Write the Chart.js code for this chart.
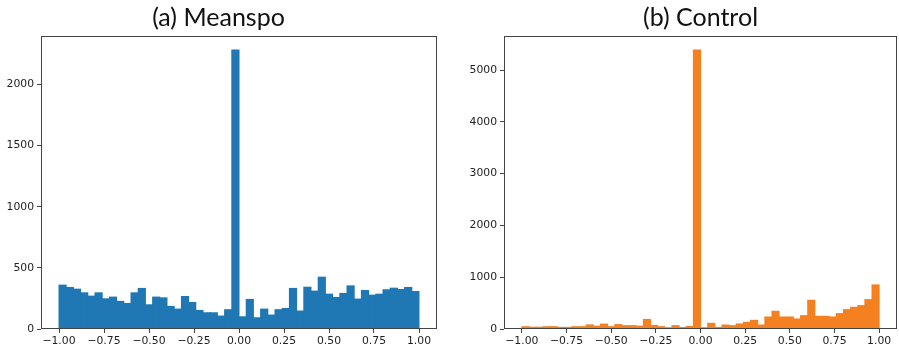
<!DOCTYPE html>
<html lang="en">

<head>
    <meta charset="UTF-8">
    <title>Meanspo vs Control</title>
    <script src="https://cdn.jsdelivr.net/npm/chart.js"></script>
    <style>
        body { margin: 0; background: #fff; }
        .panel { position: absolute; top: 0; }
    </style>
</head>

<body>
    <div class="panel" style="left:0"><canvas id="meanspo" width="450" height="352"></canvas></div>
    <div class="panel" style="left:450px"><canvas id="control" width="449" height="352"></canvas></div>
    <script>
        // histogram counts, 50 bins of width 0.04 from -1 to 1
        const meanspoCounts = [
            359, 340, 326, 296, 269, 296, 247, 261, 226, 209,
            296, 332, 198, 261, 255, 185, 163, 266, 217, 152,
            133, 133, 106, 158, 2283, 100, 242, 92, 163, 114,
            158, 168, 332, 147, 342, 310, 424, 285, 258, 291,
            353, 245, 315, 277, 285, 321, 334, 323, 340, 307
        ];
        const controlCounts = [
            45, 35, 35, 45, 45, 32, 32, 45, 45, 80,
            55, 95, 45, 85, 65, 65, 55, 185, 70, 45,
            25, 65, 30, 50, 5390, 26, 110, 32, 77, 65,
            97, 129, 168, 77, 232, 342, 232, 232, 194, 258,
            555, 245, 245, 232, 297, 374, 419, 452, 568, 852
        ];
        const binStart = -1, binWidth = 0.04;
        const xTicks = [-1, -0.75, -0.5, -0.25, 0, 0.25, 0.5, 0.75, 1];
        const meanspoYTicks = [0, 500, 1000, 1500, 2000];
        const controlYTicks = [0, 1000, 2000, 3000, 4000, 5000];

        const axisColor = '#444';
        const tickFont = { family: 'DejaVu Sans', size: 10.8 };

        // matplotlib style full frame round the plot area
        const frame = {
            id: 'frame',
            afterDraw(chart) {
                const a = chart.chartArea, c = chart.ctx;
                c.save();
                c.strokeStyle = axisColor;
                c.lineWidth = 1;
                c.strokeRect(Math.round(a.left) + 0.5, Math.round(a.top) + 0.5,
                    Math.round(a.right - a.left) - 1, Math.round(a.bottom - a.top) - 1);
                c.restore();
            }
        };

        function makeHist(id, title, counts, color, yTicks, opts) {
            const points = counts.map((c, i) => ({ x: binStart + binWidth * (i + 0.5), y: c }));
            return new Chart(document.getElementById(id), {
                type: 'bar',
                data: {
                    datasets: [{
                        data: points,
                        backgroundColor: color,
                        borderWidth: 0,
                        inflateAmount: 0.5,
                        barPercentage: 1,
                        categoryPercentage: 1
                    }]
                },
                options: {
                    responsive: false,
                    animation: false,
                    devicePixelRatio: 1,
                    layout: { padding: opts.padding },
                    plugins: {
                        legend: { display: false },
                        tooltip: { enabled: false },
                        title: {
                            display: true,
                            text: title,
                            fullSize: opts.titleFull,
                            color: '#111',
                            font: { family: 'Lato', size: 25, weight: 'normal' },
                            padding: { top: 3, bottom: 3 }
                        }
                    },
                    scales: {
                        x: {
                            type: 'linear',
                            min: -1.1,
                            max: 1.1,
                            offset: false,
                            afterBuildTicks: s => { s.ticks = xTicks.map(v => ({ value: v })); },
                            afterFit: s => { s.height = 23; },
                            border: { display: false },
                            grid: { display: true, offset: false, drawOnChartArea: false, tickLength: 4, color: axisColor },
                            ticks: {
                                color: '#222',
                                font: tickFont,
                                padding: 2,
                                maxRotation: 0,
                                callback: v => v.toFixed(2).replace('-', '\u2212')
                            }
                        },
                        y: {
                            min: 0,
                            max: Math.max(...counts) * 1.05,
                            afterBuildTicks: s => { s.ticks = yTicks.map(v => ({ value: v })); },
                            afterFit: s => { s.width = opts.yWidth; },
                            border: { display: false },
                            grid: { display: true, drawOnChartArea: false, tickLength: 4, color: axisColor },
                            ticks: { color: '#222', font: tickFont, padding: 3, callback: v => String(v) }
                        }
                    }
                },
                plugins: [frame]
            });
        }

        makeHist('meanspo', '(a) Meanspo', meanspoCounts, '#1f77b4', meanspoYTicks,
            { padding: { left: 0, right: 13, top: 0, bottom: 0 }, yWidth: 41, titleFull: true });
        makeHist('control', '(b) Control', controlCounts, '#f58020', controlYTicks,
            { padding: { left: 0, right: 2, top: 0, bottom: 0 }, yWidth: 54, titleFull: false });
    </script>
</body>

</html>
